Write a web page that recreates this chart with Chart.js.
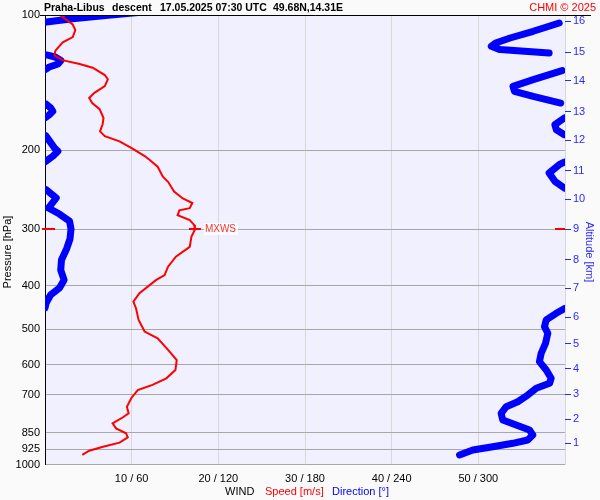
<!DOCTYPE html>
<html>
<head>
<meta charset="utf-8">
<script src="https://cdn.jsdelivr.net/npm/chart.js@4.4.1/dist/chart.umd.min.js"></script>
<style>
html, body { margin: 0; padding: 0; background: #fafafa; }
#wrap { width: 600px; height: 500px; }
</style>
</head>
<body>
<div id="wrap"><canvas id="wind" width="600" height="500"></canvas></div>
<script>
// rychlost vetru: tlak [hPa] a rychlost [m/s]
const speedPres = [100, 105, 108, 112, 115, 120, 123, 126, 128.5, 131, 136, 139, 144, 149, 153, 157, 162, 169.5, 175, 181.5,
    186, 191, 197.5, 206, 210, 217.5, 229, 235, 247, 256, 262, 269, 272, 279, 286, 293, 300, 311, 328, 345,
    363, 379, 389, 416, 434, 449, 477, 506, 524, 556, 586, 616, 643, 665, 683, 712, 744, 769, 785, 810,
    831, 852, 870, 894, 913, 932, 952];
const speedVals = [1.7, 3.2, 3.5, 3.2, 2.05, 1.2, 1.1, 2.0, 4.0, 5.5, 6.9, 7.25, 6.9, 5.7, 5.1, 5.45, 6.3, 6.75, 6.65, 6.35,
    6.9, 8.6, 9.95, 11.5, 12.05, 13.0, 13.6, 14.2, 14.9, 15.9, 17.0, 16.7, 15.5, 15.3, 16.7, 17.2, 17.3, 16.9, 16.7, 15.1,
    14.2, 13.8, 12.8, 10.9, 10.2, 10.5, 10.8, 11.5, 13.0, 14.2, 15.2, 15.05, 14.0, 12.4, 10.7, 9.95, 9.45, 9.65, 9.0, 7.8,
    8.2, 9.35, 9.55, 8.6, 6.7, 5.1, 4.3];

// smer vetru: tlak [hPa] a smer [deg]
const dirPres = [98.5, 100.2, 101.9, 103.6, 104.2, 108.7, 112.5, 115.4, 117.4, 119.4, 121.5, 122.7, 124, 126.3, 128.5,
    130.5, 132.2, 133, 139.3, 144.1, 147.8, 151.7, 157, 158, 161, 163.8, 166.7, 168.9, 169.5, 175.4,
    180, 184.6, 185.5, 197.6, 201, 206.2, 211.6, 212.5, 215.3, 224.6, 234.4, 242.6, 244.7, 255.3, 268.8,
    277.2, 287.3, 299.2, 315, 331.6, 350.9, 369.4, 388.6, 405, 419.8, 437.2, 448.5, 449.3, 460.9, 476.9,
    493.6, 510.6, 537.6, 565.7, 590.5, 616.4, 643.1, 659.8, 677, 700.6, 725.1, 743.8, 769.4, 796.2, 816.8,
    838, 859.8, 882.2, 897.2, 912.9, 928.5, 952.5];
const dirVals = [68, 42, 19, 1, 356, 338, 322, 312, 309, 315, 349, 1, 7, 11, 9,
    3, 0.5, 358, 338, 324, 325, 338, 357, 1, 4, 5.4, 3, 0.5, 359.5, 353,
    354, 359.5, 0.5, 6.6, 8.9, 5.4, 0.5, 359.5, 356, 349, 353, 359.5, 0.8, 7.8, 2.4,
    10, 17, 18, 17.3, 14.9, 11.4, 10.9, 13.2, 10, 3.8, 0.8, 0, 360, 353.9, 347,
    345.8, 348.1, 346.5, 343.5, 342.3, 347, 350.4, 349.3, 340.1, 334.2, 327.3, 319.3, 315.8, 316.9, 326.2,
    335.4, 337.7, 334.2, 323.9, 310, 296.2, 287];

const pressureTicks = [100, 200, 300, 400, 500, 600, 700, 850, 925, 1000];
const speedTicks = [0, 10, 20, 30, 40, 50, 60];
const altKm = [1, 2, 3, 4, 5, 6, 7, 8, 9, 10, 11, 12, 13, 14, 15, 16];
const altPres = [897, 793, 698, 613, 539, 470, 405, 350, 300, 257, 222, 190, 164, 140, 121, 103.3];

const speedPoints = speedPres.map((p, i) => ({ x: speedVals[i], y: p }));

// prechod 360 -> 0 se nespojuje
const dirPoints = [];
for (let i = 0; i < dirVals.length; i++) {
    if (i > 0 && Math.abs(dirVals[i] - dirVals[i - 1]) > 180) dirPoints.push({ x: null, y: null });
    dirPoints.push({ x: dirVals[i], y: dirPres[i] });
}

const FONT = "'Liberation Sans', Arial, sans-serif";

const decor = {
    id: 'decor',
    beforeDraw(chart) {
        const { ctx, chartArea: a } = chart;
        ctx.save();
        ctx.fillStyle = '#fafafa';
        ctx.fillRect(0, 0, chart.width, chart.height);
        ctx.fillStyle = '#f0f0ff';
        ctx.fillRect(a.left, a.top, a.right - a.left, a.bottom - a.top);
        ctx.restore();
    },
    afterDraw(chart) {
        const { ctx, chartArea: a } = chart;
        ctx.save();
        // horni cara
        ctx.strokeStyle = '#000';
        ctx.lineWidth = 1;
        ctx.beginPath();
        ctx.moveTo(40, a.top + 0.5);
        ctx.lineTo(591, a.top + 0.5);
        ctx.stroke();

        // titulek
        ctx.textBaseline = 'alphabetic';
        ctx.textAlign = 'left';
        ctx.fillStyle = '#000';
        ctx.font = 'bold 10.5px ' + FONT;
        ctx.fillText('Praha-Libus', 44, 11);
        ctx.fillText('descent', 112, 11);
        ctx.fillText('17.05.2025 07:30 UTC', 160, 11);
        ctx.fillText('49.68N,14.31E', 273, 11);
        ctx.font = '11px ' + FONT;
        ctx.fillStyle = '#ff0000';
        ctx.textAlign = 'right';
        ctx.fillText('CHMI \u00a9 2025', 596, 11);

        // popisek osy x
        ctx.textAlign = 'left';
        ctx.fillStyle = '#000';
        ctx.fillText('WIND', 225, 495);
        ctx.fillStyle = '#ff0000';
        ctx.fillText('Speed [m/s]', 265, 495);
        ctx.fillStyle = '#0000ff';
        ctx.fillText('Direction [\u00b0]', 332, 495);

        // popisky os y
        ctx.textAlign = 'center';
        ctx.textBaseline = 'middle';
        ctx.fillStyle = '#000';
        ctx.save();
        ctx.translate(8, 252);
        ctx.rotate(-Math.PI / 2);
        ctx.fillText('Pressure [hPa]', 0, 0);
        ctx.restore();
        ctx.fillStyle = '#2a2aff';
        ctx.save();
        ctx.translate(589, 252);
        ctx.rotate(Math.PI / 2);
        ctx.fillText('Altitude [km]', 0, 0);
        ctx.restore();

        // MXWS - maximum rychlosti
        let im = 0;
        speedVals.forEach((v, i) => { if (v > speedVals[im]) im = i; });
        const xm = chart.scales.x.getPixelForValue(speedVals[im]);
        const ym = Math.round(chart.scales.y.getPixelForValue(speedPres[im]));
        ctx.strokeStyle = '#ff0000';
        ctx.lineWidth = 2;
        ctx.beginPath();
        ctx.moveTo(xm - 6, ym); ctx.lineTo(xm + 6, ym);
        ctx.moveTo(a.left - 3, ym); ctx.lineTo(a.left + 10, ym);
        ctx.moveTo(a.right - 10, ym); ctx.lineTo(a.right, ym);
        ctx.stroke();
        ctx.font = '10px ' + FONT;
        const tw = ctx.measureText('MXWS').width;
        ctx.fillStyle = 'rgba(255,255,255,0.85)';
        ctx.fillRect(xm + 9, ym - 6, tw + 3, 12);
        ctx.fillStyle = '#ff3030';
        ctx.textAlign = 'left';
        ctx.fillText('MXWS', xm + 10, ym);
        ctx.restore();
    }
};

const ctx = document.getElementById('wind').getContext('2d');
new Chart(ctx, {
    type: 'line',
    data: {
        datasets: [{
            label: 'Speed',
            data: speedPoints,
            xAxisID: 'x',
            yAxisID: 'y',
            borderColor: '#ff0000',
            borderWidth: 2,
            pointRadius: 0,
            tension: 0
        }, {
            label: 'Direction',
            data: dirPoints,
            xAxisID: 'x2',
            yAxisID: 'y',
            borderColor: '#0000ff',
            borderWidth: 7,
            borderCapStyle: 'round',
            borderJoinStyle: 'round',
            pointRadius: 0,
            tension: 0,
            spanGaps: false
        }]
    },
    options: {
        responsive: false,
        devicePixelRatio: 1,
        animation: false,
        layout: { padding: { top: 15, left: 0, right: 0, bottom: 0 } },
        plugins: {
            legend: { display: false },
            tooltip: { enabled: false }
        },
        font: { family: FONT, size: 11 },
        scales: {
            x: {
                type: 'linear',
                position: 'bottom',
                min: 0,
                max: 60,
                afterBuildTicks: s => { s.ticks = speedTicks.map(v => ({ value: v })); },
                afterFit: s => { s.height = 35.5; },
                grid: { color: '#d8d8d8', drawTicks: false },
                border: { display: false },
                ticks: {
                    autoSkip: false,
                    maxRotation: 0,
                    padding: 8,
                    color: '#000',
                    font: { family: FONT, size: 11 },
                    callback: v => (v === 0 || v === 60) ? '' : v + ' / ' + v * 6
                }
            },
            x2: {
                type: 'linear',
                min: 0,
                max: 360,
                display: false
            },
            y: {
                type: 'logarithmic',
                position: 'left',
                reverse: true,
                min: 100,
                max: 1000,
                afterBuildTicks: s => { s.ticks = pressureTicks.map(v => ({ value: v })); },
                afterFit: s => { s.width = 45; },
                grid: { color: '#a8a8a8', drawTicks: false },
                border: { display: true, color: '#000', width: 1 },
                ticks: {
                    autoSkip: false,
                    padding: 5,
                    color: '#000',
                    font: { family: FONT, size: 11 },
                    callback: v => String(v)
                }
            },
            y2: {
                type: 'logarithmic',
                position: 'right',
                reverse: true,
                min: 100,
                max: 1000,
                afterBuildTicks: s => { s.ticks = altPres.map(v => ({ value: v })); },
                afterFit: s => { s.width = 35; },
                grid: { drawOnChartArea: false, drawTicks: true, tickLength: 6, tickColor: '#2a2aff' },
                border: { display: false },
                ticks: {
                    autoSkip: false,
                    padding: 2,
                    color: '#2a2aff',
                    font: { family: FONT, size: 11 },
                    callback: (v, i) => String(altKm[i])
                }
            }
        }
    },
    plugins: [decor]
});
</script>
</body>
</html>
